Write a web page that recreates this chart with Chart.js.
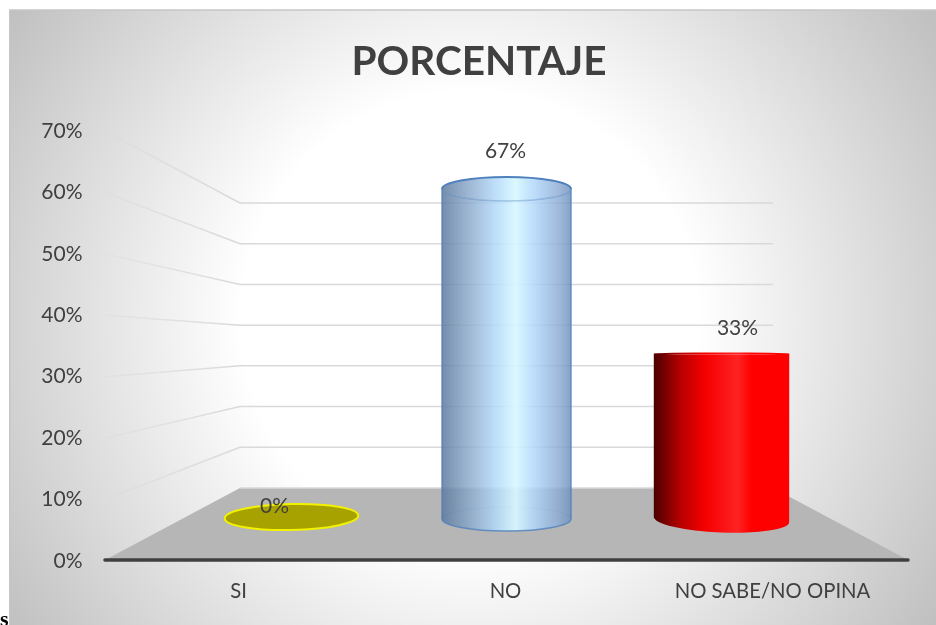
<!DOCTYPE html>
<html><head><meta charset="utf-8">
<style>html,body{margin:0;padding:0;background:#fff}#w{position:relative;width:936px;height:625px}</style>
<script src="https://cdn.jsdelivr.net/npm/chart.js@4"></script>
</head><body><div id="w"><canvas id="c" width="936" height="625"></canvas></div>
<script>
const titleText = 'PORCENTAJE';
const categories = ['SI', 'NO', 'NO SABE/NO OPINA'];
const percentages = [0, 67, 33];
const tickValues = [0, 10, 20, 30, 40, 50, 60, 70];
const strayMark = 's';

const FONT = 'Lato, "Open Sans", sans-serif';
const TEXT = '#404040';

// per-cylinder look (perspective of the original 3D chart)
const looks = [
  {widen:1.035, topRy:13, baseRy:13, tilt:-0.022, dx:-17, labelY:506, flat:true},
  {widen:1.0, topRy:12, baseRy:12, tilt:0, dx:-1, labelDy:-38, glass:true},
  {widen:1.05, topRy:1, topDy:-3, baseRy:13, baseDy:0.5, tilt:0.04, dx:16, labelDy:-28, solid:true}
];

const scene = {
  id:'scene',
  afterLayout(chart){
    // let the y tick labels use the room left of the axis box
    chart.scales.y.left=0;
  },
  beforeDraw(chart){
    const {ctx,width,height}=chart;
    ctx.save();
    ctx.fillStyle='#fff';ctx.fillRect(0,0,width,height);
    const g=ctx.createRadialGradient(470,320,0,470,320,570);
    g.addColorStop(0,'#ffffff');g.addColorStop(0.4,'#ffffff');g.addColorStop(1,'#bdbdbd');
    ctx.fillStyle=g;ctx.fillRect(10,10,width-10,height-10);
    ctx.strokeStyle='#c6c6c6';ctx.lineWidth=1.5;
    ctx.beginPath();ctx.moveTo(9.75,height);ctx.lineTo(9.75,10);ctx.lineTo(width,10);ctx.stroke();
    ctx.fillStyle='#000';ctx.font='bold 22px "Liberation Serif"';ctx.textAlign='left';ctx.textBaseline='alphabetic';
    ctx.fillText(strayMark,0,626);
    ctx.restore();
  },
  beforeDatasetsDraw(chart){
    const {ctx,chartArea:a,scales}=chart;
    const front=scales.y, back=scales.yBack;
    const bl=240, br=773, xr=a.right+2, y0=front.getPixelForValue(0)-1;
    ctx.save();
    // floor
    ctx.fillStyle='#b6b6b6';
    ctx.beginPath();
    ctx.moveTo(a.left,y0);
    ctx.lineTo(bl,back.getPixelForValue(0));
    ctx.lineTo(br,back.getPixelForValue(0));
    ctx.lineTo(xr,y0);
    ctx.closePath();ctx.fill();
    // grid on side wall and back wall
    ctx.lineWidth=1.5;ctx.lineJoin='miter';
    const side=ctx.createLinearGradient(a.left,0,bl,0);
    side.addColorStop(0,'rgba(217,217,217,.35)');
    side.addColorStop(1,'rgba(217,217,217,1)');
    tickValues.forEach(v=>{
      const yb=back.getPixelForValue(v);
      ctx.strokeStyle='#d9d9d9';
      ctx.beginPath();ctx.moveTo(bl,yb);ctx.lineTo(br,yb);ctx.stroke();
      if(v===0) return;
      ctx.strokeStyle=side;
      ctx.beginPath();ctx.moveTo(a.left,front.getPixelForValue(v));ctx.lineTo(bl,yb);ctx.stroke();
    });
    // front axis
    ctx.strokeStyle='#404040';ctx.lineWidth=3.5;ctx.lineCap='round';
    ctx.beginPath();ctx.moveTo(a.left,y0);ctx.lineTo(xr,y0);ctx.stroke();
    ctx.lineCap='butt';
    // cylinders, from the bar elements that the library laid out
    const meta=chart.getDatasetMeta(0);
    meta.data.forEach((el,i)=>drawCylinder(ctx,el,looks[i]));
    // value labels
    ctx.fillStyle=TEXT;ctx.font='21px '+FONT;ctx.textAlign='center';ctx.textBaseline='middle';
    meta.data.forEach((el,i)=>{
      const L=looks[i];
      const y=L.labelY!==undefined?L.labelY:el.y+L.labelDy;
      ctx.fillText(percentages[i]+'%',el.x+L.dx,y);
    });
    ctx.restore();
    return false;
  }
};

function drawCylinder(ctx,el,L){
  const cx=el.x, rx=el.width*L.widen/2;
  const yT=el.y+(L.topDy||0), yB=el.base+(L.baseDy||0);
  if(L.flat){
    ctx.beginPath();ctx.ellipse(cx,yB-2,rx,L.baseRy,L.tilt,0,Math.PI*2);
    ctx.fillStyle='#a8a200';ctx.fill();
    ctx.strokeStyle='#f2f200';ctx.lineWidth=2;ctx.stroke();
    return;
  }
  const x0=cx-rx,x1=cx+rx;
  const g=ctx.createLinearGradient(x0,0,x1,0);
  if(L.glass){
    g.addColorStop(0,'rgba(92,122,156,.85)');
    g.addColorStop(0.2,'rgba(135,165,200,.82)');
    g.addColorStop(0.42,'rgba(180,218,250,.85)');
    g.addColorStop(0.57,'rgba(216,248,255,.92)');
    g.addColorStop(0.72,'rgba(176,214,250,.85)');
    g.addColorStop(0.9,'rgba(140,172,212,.82)');
    g.addColorStop(1,'rgba(112,146,190,.85)');
    // rear of base ring
    ctx.beginPath();ctx.ellipse(cx,yB,rx,L.baseRy,0,Math.PI,Math.PI*2);
    ctx.strokeStyle='rgba(79,129,189,.35)';ctx.lineWidth=1.5;ctx.stroke();
  }else{
    g.addColorStop(0,'#4a0000');
    g.addColorStop(0.2,'#b80000');
    g.addColorStop(0.38,'#f50000');
    g.addColorStop(0.62,'#ff2222');
    g.addColorStop(0.72,'#ff0000');
    g.addColorStop(1,'#ff0000');
  }
  // body
  ctx.beginPath();
  ctx.moveTo(x0,yT);ctx.lineTo(x0,yB);
  ctx.ellipse(cx,yB,rx,L.baseRy,L.tilt,Math.PI,0,true);
  ctx.lineTo(x1,yT);
  ctx.ellipse(cx,yT,rx,L.topRy,0,0,Math.PI,false);
  ctx.closePath();
  ctx.fillStyle=g;ctx.fill();
  if(L.glass){
    ctx.strokeStyle='rgba(79,129,189,.8)';ctx.lineWidth=1.5;
    ctx.beginPath();
    ctx.moveTo(x0,yT);ctx.lineTo(x0,yB);
    ctx.ellipse(cx,yB,rx,L.baseRy,0,Math.PI,0,true);
    ctx.lineTo(x1,yT);ctx.stroke();
  }
  // top cap
  ctx.beginPath();ctx.ellipse(cx,yT,rx,L.topRy,0,0,Math.PI*2);
  ctx.fillStyle=g;ctx.fill();
  if(L.glass){
    ctx.strokeStyle='rgba(79,129,189,.4)';ctx.lineWidth=1.5;
    ctx.beginPath();ctx.ellipse(cx,yT,rx,L.topRy,0,0,Math.PI);ctx.stroke();
    ctx.strokeStyle='#4f81bd';ctx.lineWidth=2;
    ctx.beginPath();ctx.ellipse(cx,yT,rx,L.topRy,0,Math.PI,Math.PI*2);ctx.stroke();
  }
}

new Chart(document.getElementById('c'),{
  type:'bar',
  data:{
    labels:categories,
    datasets:[{
      label:titleText,
      data:percentages.map((y,x)=>({x,y})),
      xAxisID:'xBars',yAxisID:'yBars',
      backgroundColor:['#a8a200','#a6c8ee','#ff0000'],
      barThickness:129
    }]
  },
  plugins:[scene],
  options:{
    responsive:false,animation:false,
    layout:{padding:{left:52,right:30,top:0,bottom:0}},
    plugins:{
      legend:{display:false},tooltip:{enabled:false},
      title:{display:true,text:titleText,color:TEXT,
        font:{family:FONT,size:40.5,weight:'bold',lineHeight:1.2},
        padding:{top:38,bottom:44.4}}
    },
    scales:{
      x:{type:'category',position:'bottom',offset:true,
        grid:{display:false,drawTicks:false},border:{display:false},
        ticks:{color:TEXT,font:{family:FONT,size:20.3},padding:18,autoSkip:false,maxRotation:0},
        afterFit(s){s.height=64;}},
      y:{type:'linear',position:'left',min:0,max:70,
        grid:{display:false,drawTicks:false},border:{display:false},
        ticks:{color:TEXT,font:{family:FONT,size:21},padding:22.5,stepSize:10,callback:v=>v+'%'},
        afterFit(s){s.width=53;}},
      xBars:{type:'linear',axis:'x',display:false,offset:false,min:-0.8674,max:2.858},
      yBars:{type:'linear',axis:'y',display:false,min:-8.528,max:78.777},
      yBack:{type:'linear',axis:'y',display:false,min:-17.93,max:87.68}
    }
  }
});
</script></body></html>
